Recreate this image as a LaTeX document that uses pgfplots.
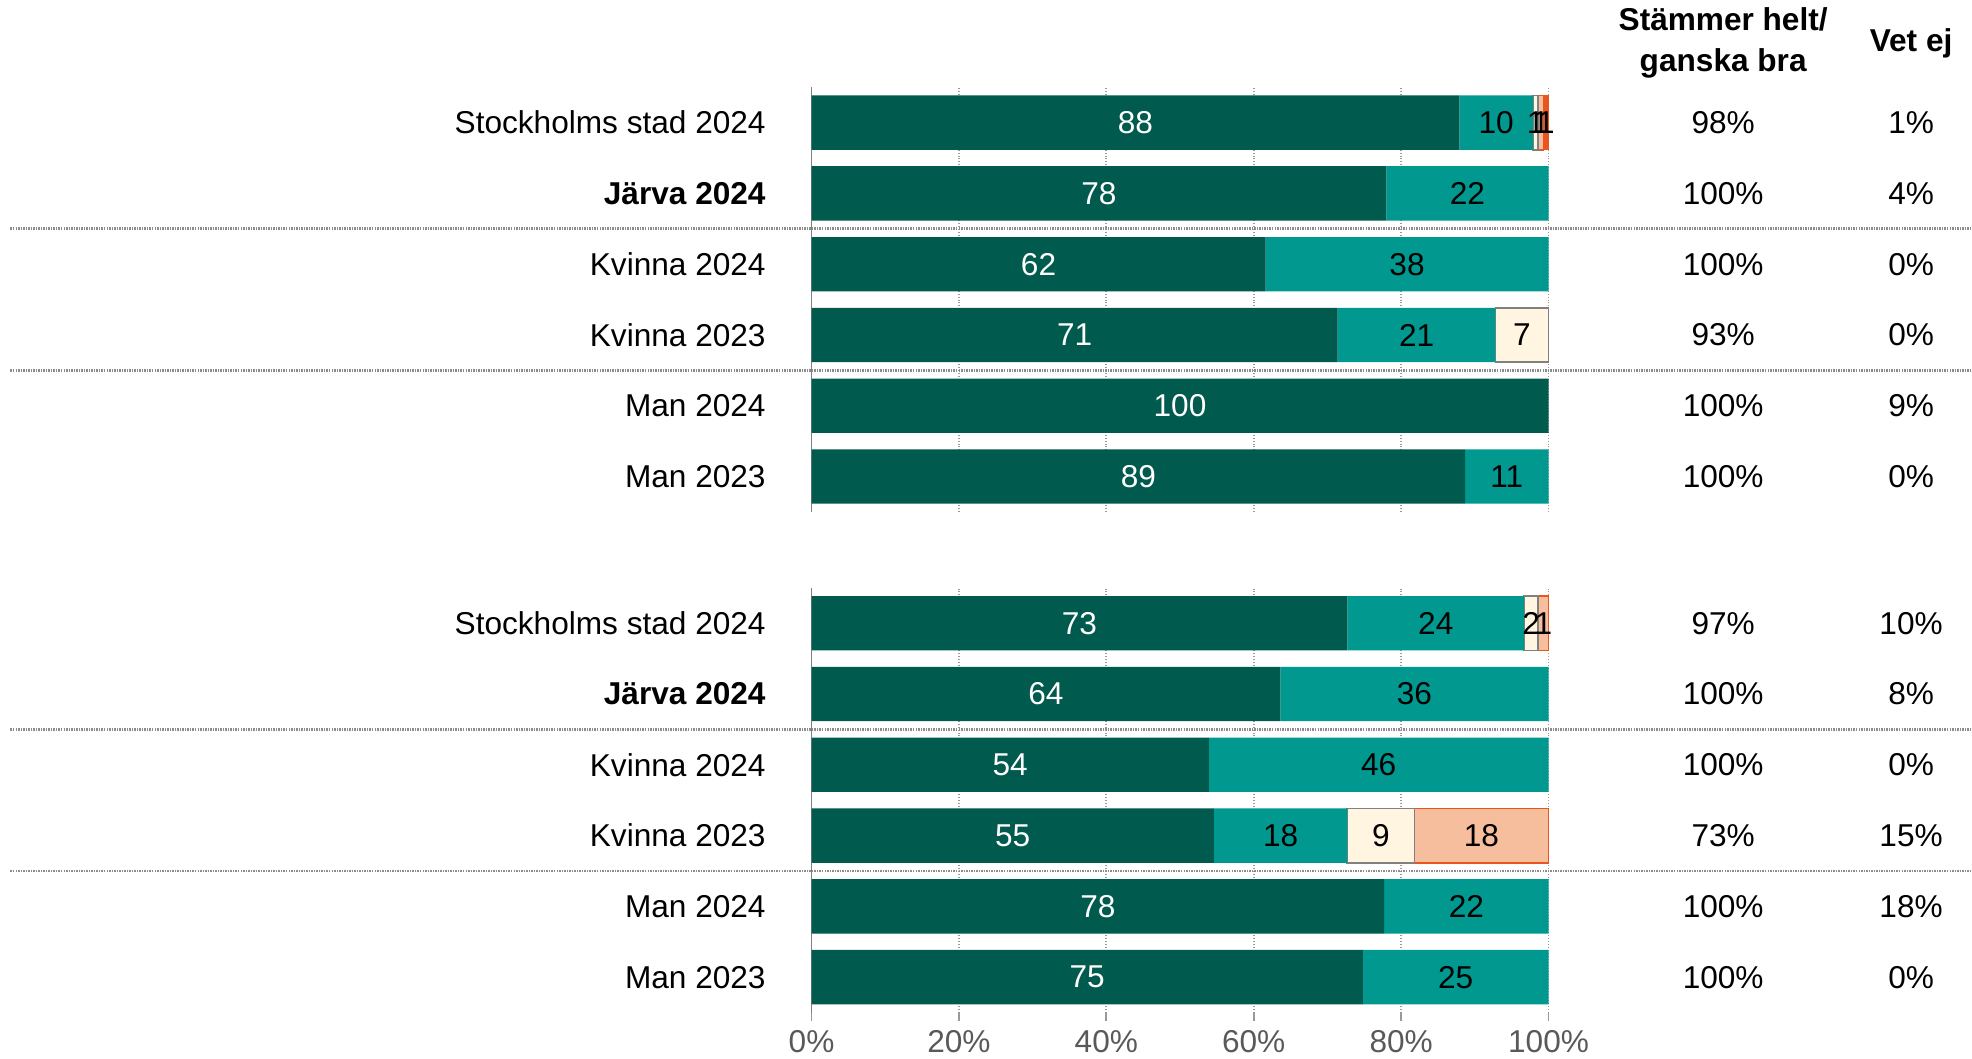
\documentclass[border=0pt]{standalone}
\usepackage{pgfplots}
\pgfplotsset{compat=1.18}
\usepackage{pgfplotstable}
\usepackage{fontspec}
\setmainfont{Liberation Sans}

\definecolor{dgreen}{RGB}{0,90,78}
\definecolor{tealc}{RGB}{0,152,143}
\definecolor{cream}{RGB}{255,245,225}
\definecolor{salmon}{RGB}{247,190,158}
\definecolor{dorange}{RGB}{232,85,30}
\definecolor{tickgray}{RGB}{89,89,89}
\definecolor{sepgray}{RGB}{140,140,140}

\newcommand{\lbl}{\fontsize{15bp}{19.5bp}\selectfont}

% row: 5 = top bar of each block
\pgfplotstableread{
row helt bra dalig sdalig mdalig
5 87.9 10.0 0.7 0.7 0.7
4 78.0 22.0 0 0 0
3 61.6 38.4 0 0 0
2 71.4 21.4 7.2 0 0
1 100 0 0 0 0
0 88.7 11.3 0 0 0
}\topdata

\pgfplotstableread{
row helt bra dalig sdalig mdalig
5 72.7 24.0 1.9 1.4 0
4 63.6 36.4 0 0 0
3 53.9 46.1 0 0 0
2 54.6 18.1 9.1 18.2 0
1 77.7 22.3 0 0 0
0 74.8 25.2 0 0 0
}\botdata

\tikzset{sep/.style={sepgray, dash pattern=on 0.7bp off 0.5bp, line width=1.4bp}}

\pgfplotsset{
  rowchart/.style={
    xbar stacked, stacked ignores zero,
    scale only axis, width=349.8bp, height=201.6bp,
    xmin=0, xmax=100, ymin=-0.5, ymax=5.5,
    bar width=25.8bp,
    axis lines*=left,
    x axis line style={draw=none},
    y axis line style={draw=gray, line width=0.8bp},
    ytick={0,...,5}, ytick style={draw=none},
    xtick={0,20,...,100},
    xmajorgrids, grid style={densely dotted, gray!80, line width=0.9bp},
    tick align=outside, major tick length=4bp,
    xtick style={draw=gray!80, line width=0.8bp},
    clip=false,
    /pgf/number format/assume math mode=true,
    point meta=explicit,
    nodes near coords={\pgfmathfloatifflags{\pgfplotspointmeta}{0}{}{\pgfmathprintnumber[fixed,precision=0]{\pgfplotspointmeta}}},
    every node near coord/.append style={font=\lbl, text=black},
    y tick label style={font=\lbl, anchor=east, inner sep=0pt, xshift=-17.6bp},
    x tick label style={font=\lbl, text=tickgray, inner sep=0pt, yshift=-4.5bp},
  },
}

\begin{document}
\begin{tikzpicture}
\begin{axis}[rowchart, at={(0,0)}, anchor=south west,
  yticklabels={Man 2023, Man 2024, Kvinna 2023, Kvinna 2024, \textbf{Järva 2024}, Stockholms stad 2024},
  xticklabels={}, xtick style={draw=none}]
\addplot[fill=dgreen, draw=none, every node near coord/.append style={text=white}] table[x=helt, y=row, meta=helt] {\topdata};
\addplot[fill=tealc, draw=none] table[x=bra, y=row, meta=bra] {\topdata};
\addplot[fill=cream, draw=gray, line width=0.8bp] table[x=dalig, y=row, meta=dalig] {\topdata};
\addplot[fill=salmon, draw=dorange, line width=0.8bp] table[x=sdalig, y=row, meta=sdalig] {\topdata};
\addplot[fill=dorange, draw=none] table[x=mdalig, y=row, meta=mdalig] {\topdata};
\draw[sep] (axis cs:-108.7,3.5) -- (axis cs:157.5,3.5);
\draw[sep] (axis cs:-108.7,1.5) -- (axis cs:157.5,1.5);
\node[font=\lbl\bfseries, align=center] at (axis cs:123.7,6.12) {Stämmer helt/\\ganska bra};
\node[font=\lbl\bfseries] at (axis cs:149.2,6.12) {Vet ej};
\node[font=\lbl] at (axis cs:123.7,5) {98\%};  \node[font=\lbl] at (axis cs:149.2,5) {1\%};
\node[font=\lbl] at (axis cs:123.7,4) {100\%}; \node[font=\lbl] at (axis cs:149.2,4) {4\%};
\node[font=\lbl] at (axis cs:123.7,3) {100\%}; \node[font=\lbl] at (axis cs:149.2,3) {0\%};
\node[font=\lbl] at (axis cs:123.7,2) {93\%};  \node[font=\lbl] at (axis cs:149.2,2) {0\%};
\node[font=\lbl] at (axis cs:123.7,1) {100\%}; \node[font=\lbl] at (axis cs:149.2,1) {9\%};
\node[font=\lbl] at (axis cs:123.7,0) {100\%}; \node[font=\lbl] at (axis cs:149.2,0) {0\%};
\end{axis}

\begin{axis}[rowchart, at={(0,-237.6bp)}, anchor=south west,
  yticklabels={Man 2023, Man 2024, Kvinna 2023, Kvinna 2024, \textbf{Järva 2024}, Stockholms stad 2024},
  xticklabels={0\%, 20\%, 40\%, 60\%, 80\%, 100\%}]
\addplot[fill=dgreen, draw=none, every node near coord/.append style={text=white}] table[x=helt, y=row, meta=helt] {\botdata};
\addplot[fill=tealc, draw=none] table[x=bra, y=row, meta=bra] {\botdata};
\addplot[fill=cream, draw=gray, line width=0.8bp] table[x=dalig, y=row, meta=dalig] {\botdata};
\addplot[fill=salmon, draw=dorange, line width=0.8bp] table[x=sdalig, y=row, meta=sdalig] {\botdata};
\addplot[fill=dorange, draw=none] table[x=mdalig, y=row, meta=mdalig] {\botdata};
\draw[sep] (axis cs:-108.7,3.5) -- (axis cs:157.5,3.5);
\draw[sep] (axis cs:-108.7,1.5) -- (axis cs:157.5,1.5);
\node[font=\lbl] at (axis cs:123.7,5) {97\%};  \node[font=\lbl] at (axis cs:149.2,5) {10\%};
\node[font=\lbl] at (axis cs:123.7,4) {100\%}; \node[font=\lbl] at (axis cs:149.2,4) {8\%};
\node[font=\lbl] at (axis cs:123.7,3) {100\%}; \node[font=\lbl] at (axis cs:149.2,3) {0\%};
\node[font=\lbl] at (axis cs:123.7,2) {73\%};  \node[font=\lbl] at (axis cs:149.2,2) {15\%};
\node[font=\lbl] at (axis cs:123.7,1) {100\%}; \node[font=\lbl] at (axis cs:149.2,1) {18\%};
\node[font=\lbl] at (axis cs:123.7,0) {100\%}; \node[font=\lbl] at (axis cs:149.2,0) {0\%};
\end{axis}
\pgfresetboundingbox
\path[use as bounding box] (-385.2bp,-259.2bp) rectangle (550.8bp,243bp);
\end{tikzpicture}
\end{document}
